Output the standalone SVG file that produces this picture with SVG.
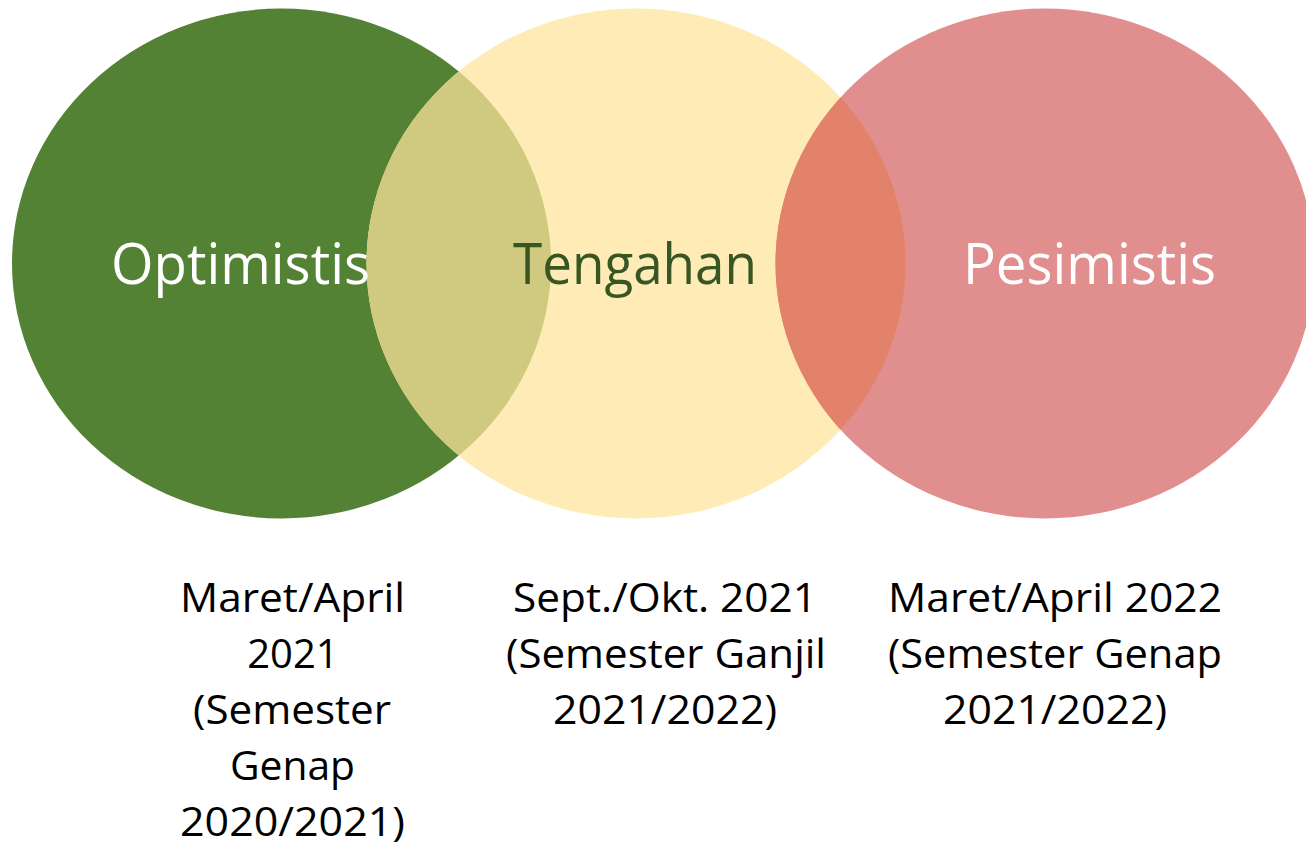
<svg xmlns="http://www.w3.org/2000/svg" width="1306" height="847" viewBox="0 0 1306 847">
<style>
.big{font-family:"Open Sans","Noto Sans","Liberation Sans",sans-serif;font-size:56px;text-anchor:middle}
.sub{font-family:"Open Sans","Noto Sans","Liberation Sans",sans-serif;font-size:40px;fill:#000;text-anchor:middle}
</style>
<defs>
<clipPath id="cG"><ellipse cx="281.5" cy="263.5" rx="269.5" ry="255"/></clipPath>
<clipPath id="cY"><ellipse cx="636" cy="263.5" rx="269.5" ry="255"/></clipPath>
</defs>
<rect width="1306" height="847" fill="#fff"/>
<g id="optimistis">
<ellipse cx="281.5" cy="263.5" rx="269.5" ry="255" fill="#548235"/>
</g>
<g id="tengahan">
<ellipse cx="636" cy="263.5" rx="269.5" ry="255" fill="#FFEBB5"/>
<ellipse cx="636" cy="263.5" rx="269.5" ry="255" fill="#D0C980" clip-path="url(#cG)"/>
</g>
<g id="pesimistis">
<ellipse cx="1045" cy="263.5" rx="269.5" ry="255" fill="#E08E8E"/>
<ellipse cx="1045" cy="263.5" rx="269.5" ry="255" fill="#E3826A" clip-path="url(#cY)"/>
</g>
<g id="labels">
<text class="big" x="240.5" y="284" fill="#fff" textLength="259" lengthAdjust="spacingAndGlyphs">Optimistis</text>
<text class="big" x="635" y="284" fill="#375623" textLength="244" lengthAdjust="spacingAndGlyphs">Tengahan</text>
<text class="big" x="1089.5" y="284" fill="#fff" textLength="253" lengthAdjust="spacingAndGlyphs">Pesimistis</text>
</g>
<g id="dates">
<text class="sub" x="292.5" y="612" textLength="225" lengthAdjust="spacingAndGlyphs">Maret/April</text>
<text class="sub" x="293" y="668">2021</text>
<text class="sub" x="292" y="724" textLength="198" lengthAdjust="spacingAndGlyphs">(Semester</text>
<text class="sub" x="292.5" y="780" textLength="125" lengthAdjust="spacingAndGlyphs">Genap</text>
<text class="sub" x="292.5" y="836" textLength="225" lengthAdjust="spacingAndGlyphs">2020/2021)</text>
<text class="sub" x="665" y="612" textLength="304" lengthAdjust="spacingAndGlyphs">Sept./Okt. 2021</text>
<text class="sub" x="666" y="668" textLength="320" lengthAdjust="spacingAndGlyphs">(Semester Ganjil</text>
<text class="sub" x="665" y="724" textLength="224" lengthAdjust="spacingAndGlyphs">2021/2022)</text>
<text class="sub" x="1055" y="612" textLength="334" lengthAdjust="spacingAndGlyphs">Maret/April 2022</text>
<text class="sub" x="1055" y="668" textLength="334" lengthAdjust="spacingAndGlyphs">(Semester Genap</text>
<text class="sub" x="1055" y="724" textLength="224" lengthAdjust="spacingAndGlyphs">2021/2022)</text>
</g>
</svg>
